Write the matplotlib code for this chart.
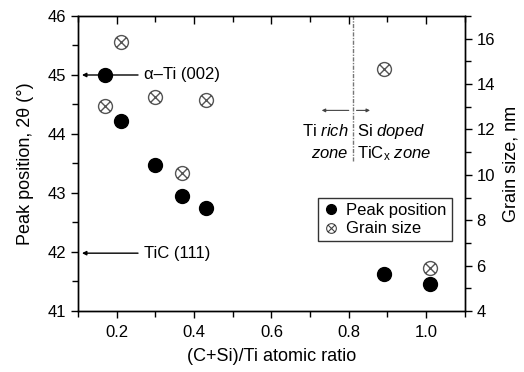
import matplotlib
matplotlib.use('Agg')
import matplotlib.pyplot as plt
from matplotlib.path import Path
from matplotlib.lines import Line2D

plt.rcParams['font.family'] = ['Liberation Sans', 'DejaVu Sans']
plt.rcParams['mathtext.fontset'] = 'custom'
plt.rcParams['mathtext.rm'] = 'Liberation Sans'
plt.rcParams['mathtext.it'] = 'Liberation Sans:italic'

# Peak position (left axis)
peak_x = [0.17, 0.21, 0.30, 0.37, 0.43, 0.89, 1.01]
peak_y = [45.0, 44.22, 43.47, 42.95, 42.75, 41.62, 41.45]

# Grain size (right axis)
grain_x = [0.17, 0.21, 0.30, 0.37, 0.43, 0.89, 1.01]
grain_y = [13.05, 15.87, 13.45, 10.1, 13.32, 14.68, 5.89]

zone_boundary = 0.81
ref_peaks = [(45.0, '\u03b1\u2013Ti (002)'), (41.98, 'TiC (111)')]

# circle with an X inside
crossed = Path.make_compound_path(
    Path.unit_circle(),
    Path([(-0.7, -0.7), (0.7, 0.7)]),
    Path([(-0.7, 0.7), (0.7, -0.7)]),
)

fig = plt.figure(figsize=(5.24, 3.72), dpi=100)
ax = fig.add_axes([0.149, 0.164, 0.738, 0.793])
ax2 = ax.twinx()

ax.plot(peak_x, peak_y, 'o', color='black', markersize=10, zorder=3)
ax2.plot(grain_x, grain_y, linestyle='none', marker=crossed, markersize=10,
         markerfacecolor='none', markeredgecolor='#555555', markeredgewidth=1.0)

ax.set_xlim(0.1, 1.1)
ax.set_ylim(41, 46)
ax2.set_ylim(4, 17)

ax.set_xticks([0.2, 0.4, 0.6, 0.8, 1.0])
ax.set_xticklabels(['0.2', '0.4', '0.6', '0.8', '1.0'])
ax.set_xticks([0.1, 0.3, 0.5, 0.7, 0.9, 1.1], minor=True)
ax.set_yticks([41, 42, 43, 44, 45, 46])
ax.set_yticks([41.5, 42.5, 43.5, 44.5, 45.5], minor=True)
ax2.set_yticks([4, 6, 8, 10, 12, 14, 16])
ax2.set_yticks([5, 7, 9, 11, 13, 15, 17], minor=True)

for a in (ax, ax2):
    a.tick_params(which='both', direction='out', labelsize=12, width=1.0)
    a.tick_params(which='major', length=5)
    a.tick_params(which='minor', length=4)
    for s in a.spines.values():
        s.set_linewidth(1.0)
ax.tick_params(axis='x', pad=5)

# inward ticks along the top, drawn by the twin's x axis
ax2.xaxis.set_visible(True)
ax2.tick_params(axis='x', which='both', direction='in', top=True, bottom=False,
                labeltop=False, labelbottom=False, width=1.0)
ax2.tick_params(axis='x', which='major', length=6)
ax2.tick_params(axis='x', which='minor', length=4)

ax.set_xlabel('(C+Si)/Ti atomic ratio', fontsize=13, labelpad=6)
ax.set_ylabel('Peak position, 2\u03b8 (\u00b0)', fontsize=13, labelpad=10)
ax2.set_ylabel('Grain size, nm', fontsize=13, labelpad=5)

# reference peak positions
for y, label in ref_peaks:
    ax.annotate('', xy=(0.11, y), xytext=(0.255, y),
                arrowprops=dict(arrowstyle='-|>', color='black', lw=1.0,
                                mutation_scale=6, shrinkA=0, shrinkB=0))
    ax.text(0.27, y, label, fontsize=12, va='center', ha='left')

# zone boundary
ax.plot([zone_boundary, zone_boundary], [43.55, 46], color='#777777',
        linestyle=(0, (3, 1, 1, 1)), lw=1.0)
ax.annotate('', xy=(0.73, 44.4), xytext=(0.8, 44.4),
            arrowprops=dict(arrowstyle='-|>', color='#444444', lw=0.8,
                            mutation_scale=5, shrinkA=0, shrinkB=0))
ax.annotate('', xy=(0.855, 44.4), xytext=(0.82, 44.4),
            arrowprops=dict(arrowstyle='-|>', color='#444444', lw=0.8,
                            mutation_scale=5, shrinkA=0, shrinkB=0))
ax.text(0.8, 44.05, r'Ti $\mathit{rich}$', fontsize=12, ha='right', va='center')
ax.text(0.8, 43.67, r'$\mathit{zone}$', fontsize=12, ha='right', va='center')
ax.text(0.822, 44.05, r'Si $\mathit{doped}$', fontsize=12, ha='left', va='center')
ax.text(0.822, 43.67, r'TiC$_\mathregular{x}$ $\mathit{zone}$', fontsize=12,
        ha='left', va='center')

handles = [
    Line2D([], [], linestyle='none', marker='o', color='black', markersize=7),
    Line2D([], [], linestyle='none', marker=crossed, markersize=7,
           markerfacecolor='none', markeredgecolor='#444444', markeredgewidth=0.8),
]
leg = ax2.legend(handles, ['Peak position', 'Grain size'], loc='upper right',
                 bbox_to_anchor=(0.966, 0.383), borderaxespad=0, fontsize=12,
                 frameon=True, fancybox=False, edgecolor='black',
                 handlelength=1.0, handletextpad=0.4, borderpad=0.3,
                 labelspacing=0.2)
leg.get_frame().set_linewidth(1.0)

fig.savefig('out.png', dpi=100)
